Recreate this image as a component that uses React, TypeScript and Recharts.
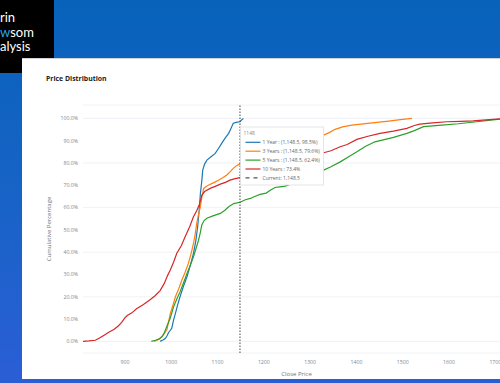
import { LineChart, Line, XAxis, YAxis, CartesianGrid, ReferenceLine } from "recharts";

// [close price, cumulative %]
const oneYear: [number, number][] = [
  [976, 0], [982, 0.6], [987, 1.3], [991, 2.5], [994, 3.9], [998, 5], [1001, 5.8], [1005, 9.5],
  [1009, 12.6], [1014, 16.5], [1019, 20], [1026, 24.5], [1034, 29], [1041, 34], [1048, 39.5],
  [1053, 45], [1057, 51.4], [1060, 58], [1063, 66.4], [1066, 72], [1068, 76.8], [1072, 79.5],
  [1077, 81.3], [1086, 82.8], [1095, 84.3], [1102, 86.5], [1109, 88.8], [1116, 91], [1124, 93.3],
  [1129, 95.5], [1134, 97.8], [1140, 98.2], [1148.5, 98.5], [1152, 99.3], [1156, 100],
];

const threeYears: [number, number][] = [
  [963, 0], [970, 0.6], [975, 1.2], [981, 2.5], [985, 3.5], [991, 5.5], [998, 12.6], [1004, 16.5],
  [1009, 20], [1016, 23.5], [1023, 27.5], [1030, 31], [1037, 35], [1043, 39.5], [1048, 43.9],
  [1052, 48.5], [1055, 52.9], [1059, 57], [1063, 60.4], [1066, 64.5], [1070, 68.6], [1076, 69.6],
  [1081, 70.1], [1092, 71.2], [1102, 72.3], [1112, 73.5], [1120, 74.6], [1127, 76], [1134, 77.6],
  [1141, 78.8], [1148.5, 79.6], [1165, 81.5], [1185, 83.5], [1205, 85.3], [1225, 87], [1250, 88.5],
  [1270, 89.8], [1290, 90.8], [1310, 91.7], [1329, 92.5], [1340, 93.5], [1354, 95.1], [1370, 96.2],
  [1390, 97], [1415, 97.5], [1444, 98.2], [1470, 98.8], [1495, 99.4], [1520, 100],
];

const fiveYears: [number, number][] = [
  [957, 0], [966, 0.5], [973, 1], [980, 2.1], [985, 3.8], [991, 7], [998, 10.5], [1005, 15.5],
  [1012, 19], [1019, 22.2], [1027, 26.5], [1034, 30.5], [1041, 34], [1048, 37.9], [1054, 42],
  [1059, 45.4], [1063, 49], [1066, 52.2], [1071, 54.2], [1077, 55.2], [1090, 56.3], [1106, 57.4],
  [1116, 58.8], [1124, 60.4], [1135, 61.8], [1148.5, 62.4], [1160, 63.5], [1171, 64.1], [1180, 65],
  [1192, 65.9], [1205, 66.5], [1214, 67.8], [1224, 69], [1235, 69.3], [1246, 69.6], [1265, 71],
  [1285, 72.5], [1305, 74.5], [1329, 76.8], [1345, 78.3], [1365, 80.5], [1385, 83], [1401, 85],
  [1420, 87.5], [1440, 89.5], [1460, 90.5], [1480, 91.5], [1509, 93.3], [1525, 94.5], [1545, 96.3],
  [1584, 97], [1620, 97.6], [1660, 98.5], [1690, 99.2], [1710, 99.7], [1731, 100],
];

const tenYears: [number, number][] = [
  [809, 0], [822, 0.2], [836, 0.5], [845, 1.5], [855, 2.8], [866, 4.2], [876, 5.3], [885, 6.8],
  [893, 8.5], [899, 10.3], [905, 11.6], [915, 12.8], [925, 14.6], [940, 16.5], [955, 18.8],
  [965, 20.5], [976, 22.8], [985, 26], [992, 29.5], [998, 32], [1005, 35.5], [1012, 39.5],
  [1022, 43], [1030, 46.9], [1040, 51.5], [1048, 55.9], [1055, 58.6], [1061, 61.5], [1066, 65.5],
  [1072, 67.2], [1084, 68.6], [1095, 69.5], [1106, 70.5], [1117, 71.3], [1127, 72.3], [1138, 73],
  [1148.5, 73.4], [1165, 74.6], [1185, 76.2], [1205, 77.3], [1225, 78.4], [1245, 80], [1270, 81.5],
  [1290, 82.6], [1310, 83.5], [1329, 84.6], [1345, 85.5], [1365, 87.3], [1380, 88.3], [1401, 90.6],
  [1425, 92], [1451, 93.3], [1480, 94.3], [1509, 95.5], [1525, 96.8], [1537, 97.4], [1565, 98],
  [1595, 98.5], [1625, 98.7], [1652, 98.9], [1680, 99.3], [1710, 99.8], [1731, 100],
];

const currentPrice = 1148.5;
const xTicks = [900, 1000, 1100, 1200, 1300, 1400, 1500, 1600, 1700];
const yTicks = [0, 10, 20, 30, 40, 50, 60, 70, 80, 90, 100];

const hoverRows = [
  { text: "1 Year : (1,148.5, 98.5%)", color: "#1f77b4" },
  { text: "3 Years : (1,148.5, 79.6%)", color: "#ff7f0e" },
  { text: "5 Years : (1,148.5, 62.4%)", color: "#2ca02c" },
  { text: "10 Years : 73.4%", color: "#d62728" },
  { text: "Current: 1,148.5", color: "#555", dash: "4 4" },
];

const toRows = (pts: [number, number][]) => pts.map(([v, p]) => ({ v, p }));

const FONT = '"Open Sans", sans-serif';
const tickStyle = { fontSize: 5.2, fill: "#7d8796", fontFamily: FONT };

const HoverBox = ({ viewBox }: any) => {
  if (!viewBox) return null;
  const x0 = viewBox.x + 0.5;
  const y0 = viewBox.y + 22;
  return (
    <g>
      <rect x={x0} y={y0} width={83} height={58} fill="#fff" stroke="#dcdfe4" strokeWidth={0.8} />
      <text x={x0 + 3} y={y0 + 6.3} fontSize={5} fill="#888" dominantBaseline="central" fontFamily={FONT}>
        1148
      </text>
      {hoverRows.map((r, i) => {
        const y = y0 + 15.3 + i * 8.9;
        return (
          <g key={i}>
            <line x1={x0 + 5} x2={x0 + 20} y1={y} y2={y} stroke={r.color} strokeWidth={1.2} strokeDasharray={r.dash} />
            <text x={x0 + 22} y={y} fontSize={5} fill="#666" dominantBaseline="central" fontFamily={FONT}>
              {r.text}
            </text>
          </g>
        );
      })}
    </g>
  );
};

export default function App() {
  return (
    <div
      style={{
        position: "fixed",
        left: 0,
        top: 0,
        width: 500,
        height: 383,
        overflow: "hidden",
        background: "linear-gradient(180deg, #0862ba 0%, #1763c6 50%, #2b5ed6 100%)",
        fontFamily: FONT,
      }}
    >
      <div style={{ position: "absolute", left: 0, top: 0, width: 54, height: 73, background: "#000" }} />
      <div
        style={{
          position: "absolute",
          left: 0,
          top: 10,
          color: "#fff",
          fontFamily: "Lato, sans-serif",
          fontSize: 13,
          lineHeight: "14.5px",
        }}
      >
        <div>rin</div>
        <div>
          <span style={{ color: "#2aa3e8" }}>w</span>som
        </div>
        <div>alysis</div>
      </div>
      <div
        style={{
          position: "absolute",
          left: 22,
          top: 58,
          width: 490,
          height: 320,
          background: "#fff",
          borderTop: "1px solid #cfd3d8",
        }}
      />
      <div
        style={{
          position: "absolute",
          left: 46,
          top: 74,
          fontSize: 6.9,
          fontWeight: 700,
          color: "#222",
          lineHeight: "10px",
        }}
      >
        Price Distribution
      </div>
      <div style={{ position: "absolute", left: 0, top: 0 }}>
        <LineChart width={540} height={383} margin={{ top: 105, right: 30, bottom: 0, left: 40 }}>
          <CartesianGrid vertical={false} stroke="#ebeff5" strokeWidth={0.8} />
          <XAxis
            dataKey="v"
            type="number"
            domain={[809.4, 1731.7]}
            allowDataOverflow
            ticks={xTicks}
            height={30}
            tickLine={false}
            axisLine={false}
            tickSize={0}
            tickMargin={7}
            tick={tickStyle}
            label={{
              content: ({ viewBox }: any) => (
                <text
                  x={viewBox.x + viewBox.width / 2}
                  y={viewBox.y + 20.7}
                  textAnchor="middle"
                  dominantBaseline="central"
                  fontSize={6}
                  fill="#6f7680"
                  fontFamily={FONT}
                >
                  Close Price
                </text>
              ),
            }}
          />
          <YAxis
            type="number"
            domain={[-5.2, 106]}
            allowDataOverflow
            ticks={yTicks}
            width={43}
            tickLine={false}
            axisLine={false}
            tickSize={0}
            tickMargin={5}
            tick={tickStyle}
            tickFormatter={(v: number) => `${v.toFixed(1)}%`}
            label={{
              content: ({ viewBox }: any) => {
                const cx = viewBox.x + 9.3;
                const cy = viewBox.y + viewBox.height / 2;
                return (
                  <text
                    x={cx}
                    y={cy}
                    transform={`rotate(-90 ${cx} ${cy})`}
                    textAnchor="middle"
                    dominantBaseline="central"
                    fontSize={6}
                    fill="#6f7680"
                    fontFamily={FONT}
                  >
                    Cumulative Percentage
                  </text>
                );
              },
            }}
          />
          <Line data={toRows(oneYear)} dataKey="p" name="1 Year" type="linear" dot={false} stroke="#1f77b4" strokeWidth={1.2} isAnimationActive={false} />
          <Line data={toRows(threeYears)} dataKey="p" name="3 Years" type="linear" dot={false} stroke="#ff7f0e" strokeWidth={1.2} isAnimationActive={false} />
          <Line data={toRows(fiveYears)} dataKey="p" name="5 Years" type="linear" dot={false} stroke="#2ca02c" strokeWidth={1.2} isAnimationActive={false} />
          <Line data={toRows(tenYears)} dataKey="p" name="10 Years" type="linear" dot={false} stroke="#d62728" strokeWidth={1.2} isAnimationActive={false} />
          <ReferenceLine
            x={currentPrice}
            stroke="#333"
            strokeWidth={0.9}
            strokeDasharray="1.5 1.5"
            label={{ content: (p: any) => <HoverBox viewBox={p.viewBox} /> }}
          />
        </LineChart>
      </div>
    </div>
  );
}
